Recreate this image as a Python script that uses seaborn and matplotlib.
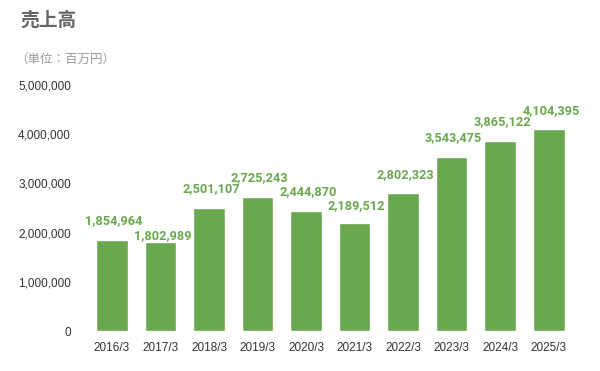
import matplotlib
matplotlib.use("Agg")
import matplotlib.pyplot as plt
import seaborn as sns
import pandas as pd
from matplotlib.ticker import FuncFormatter

periods = ["2016/3", "2017/3", "2018/3", "2019/3", "2020/3",
           "2021/3", "2022/3", "2023/3", "2024/3", "2025/3"]
sales = [1854964, 1802989, 2501107, 2725243, 2444870,
         2189512, 2802323, 3543475, 3865122, 4104395]

df = pd.DataFrame({"period": periods, "sales": sales})

sns.set_theme(style="white")
plt.rcParams["font.family"] = ["Liberation Sans", "Noto Sans CJK JP", "DejaVu Sans"]

green = "#6aa84f"

fig = plt.figure(figsize=(6, 3.71), dpi=100)
ax = fig.add_axes([0.146, 0.1078, 0.809, 0.663])

sns.barplot(data=df, x="period", y="sales", color=green, width=0.65,
            saturation=1, ax=ax)

# label offsets (points), one label sits lower to avoid its neighbour
label_offset = [14, 4.5, 14, 14, 14, 13, 13, 14, 14, 13]
for i, v in enumerate(df["sales"]):
    ax.annotate(f"{v:,}", (i, v), xytext=(1.5, label_offset[i]),
                textcoords="offset points", ha="center", va="center",
                color=green, fontsize=9.2, fontweight="bold",
                family=["Roboto", "DejaVu Sans"])

ax.set_ylim(0, 5000000)
ax.set_xlim(-0.5, 9.5)
ax.set_yticks(range(0, 5000001, 1000000))
ax.yaxis.set_major_formatter(FuncFormatter(lambda x, p: f"{int(x):,}"))
ax.tick_params(axis="both", length=0, labelsize=8.5, labelcolor="#333333")
ax.tick_params(axis="y", pad=12)
ax.tick_params(axis="x", pad=8)
ax.set_xlabel("")
ax.set_ylabel("")
sns.despine(ax=ax, left=True, bottom=True)

fig.text(20 / 600, 1 - 20 / 371, "売上高", fontsize=13.5, fontweight="bold",
         color="#666666", va="center", ha="left",
         family=["Noto Sans CJK JP", "DejaVu Sans"])
fig.text(15 / 600, 1 - 59 / 371, "（単位：百万円）", fontsize=9, color="#999999",
         va="center", ha="left", family=["Noto Sans CJK JP", "DejaVu Sans"])

fig.savefig("out.png", dpi=100)
